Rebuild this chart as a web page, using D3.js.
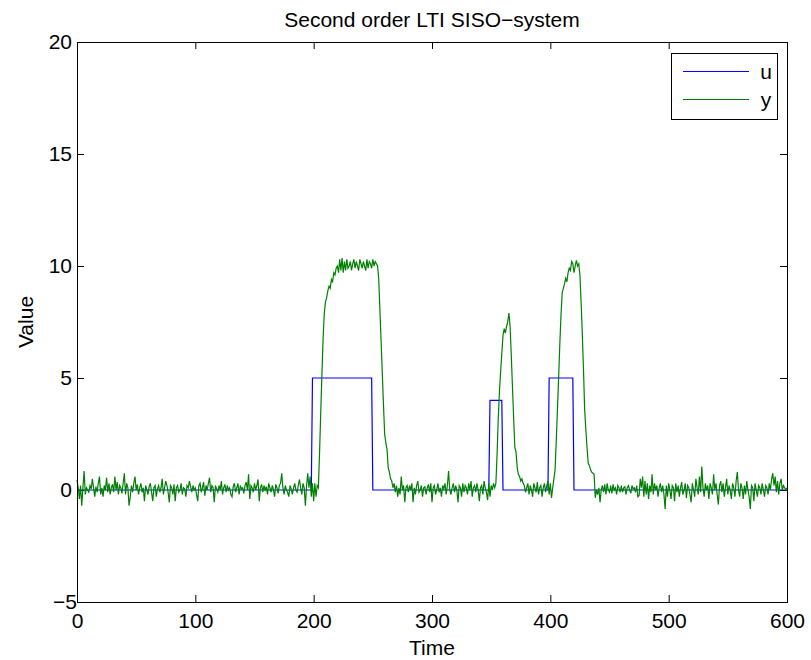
<!DOCTYPE html>
<html>
<head>
<meta charset="utf-8">
<script src="https://cdn.jsdelivr.net/npm/d3@7"></script>
<style>
  body { margin: 0; background: #fff; }
  svg { font-family: "Liberation Sans", Arial, Helvetica, sans-serif; }
  .tick text { font-size: 21px; fill: #000; }
  .tick line { stroke: #000; }
</style>
</head>
<body>
<div id="container"></div>
<script>
/* DATA */
// input u: breakpoints of the step signal
const uTime  = [0, 198, 199, 249, 250, 348, 349, 359, 360, 398, 399, 419, 420, 600];
const uValue = [0,   0,   5,   5,   0,   0,   4,   4,   0,   0,   5,   5,   0,   0];

// output y, one value per time step (t = 0..600)
const yValue = [
  0.45, 0.1, -0.4, 0.2, -0.7, 0.1, 0.85, -0.2, 0.1, 0.0, -0.1, 0.2, 0.05, 0.5, 0.1, -0.3, 0.15, -0.1, 0.3, 0.6,
  -0.2, 0.1, -0.3, 0.2, 0.0, 0.55, -0.1, 0.3, -0.2, 0.1, 0.25, -0.1, 0.6, 0.0, 0.35, -0.2, 0.2, 0.1, -0.15, 0.3,
  0.75, -0.2, 0.3, 0.1, -0.7, -0.3, 0.2, -0.1, 0.3, 0.6, 0.0, 0.25, -0.2, 0.1, 0.3, -0.1, 0.1, -0.5, 0.2, 0.0,
  -0.2, 0.15, 0.3, -0.1, -0.5, 0.1, 0.2, -0.3, 0.05, 0.2, -0.1, 0.1, 0.5, -0.2, 0.1, 0.4, 0.2, -0.1, -0.55, 0.2,
  0.1, -0.2, 0.25, -0.5, 0.1, 0.2, -0.1, 0.0, 0.3, -0.2, 0.1, 0.05, -0.3, 0.2, 0.1, 0.4, 0.15, -0.1, 0.2, 0.0,
  0.1, -0.2, -0.5, 0.2, 0.3, -0.1, 0.1, 0.35, -0.25, 0.2, 0.0, 0.3, 0.55, -0.1, 0.2, 0.1, -0.55, 0.2, 0.05, -0.1,
  0.2, 0.0, 0.4, -0.2, 0.1, 0.25, -0.1, 0.2, 0.0, 0.1, -0.2, -0.3, 0.15, 0.3, -0.1, 0.1, 0.3, -0.2, 0.2, 0.05,
  0.1, -0.15, 0.2, 0.35, 0.0, 0.7, -0.4, 0.2, 0.1, -0.1, 0.3, 0.0, 0.2, 0.47, -0.5, 0.1, 0.25, -0.1, 0.2, 0.0,
  0.15, -0.2, 0.3, 0.1, -0.1, 0.2, 0.0, -0.3, 0.25, 0.1, -0.15, 0.2, 0.3, 0.74, 0.1, -0.2, 0.2, 0.0, -0.1, -0.3,
  0.2, 0.05, -0.2, 0.1, 0.3, 0.0, -0.1, 0.2, 0.47, 0.1, -0.2, 0.3, 0.1, -0.7, 0.2, 0.74, 0.1, 0.6, -0.3, 0.3,
  -0.5, 0.3, -0.3, 0.2, 0.1, 1.7, 3.5, 5.2, 6.8, 7.9, 8.4, 8.6, 8.9, 9.1, 9.0, 9.4, 9.3, 9.7, 9.6, 9.9,
  10.0, 9.7, 10.3, 9.8, 10.35, 9.7, 10.2, 9.8, 10.3, 9.9, 10.0, 10.2, 9.8, 10.1, 10.3, 9.9, 10.2, 10.0, 9.8, 10.3,
  10.1, 9.9, 10.2, 10.0, 9.8, 10.3, 9.9, 10.2, 10.1, 9.9, 10.3, 10.0, 10.2, 10.1, 10.0, 9.4, 8.0, 6.6, 5.2, 3.8,
  2.5, 2.1, 1.8, 1.0, 0.8, 0.5, 0.4, 0.1, 0.3, -0.1, 0.2, -0.3, 0.1, -0.2, 0.6, 0.0, 0.2, -0.55, 0.1, 0.2,
  -0.1, 0.2, 0.0, 0.3, -0.55, 0.1, -0.2, 0.2, 0.4, -0.1, 0.0, 0.2, -0.3, 0.1, 0.15, -0.2, 0.1, 0.25, -0.1, 0.3,
  -0.55, 0.1, 0.2, -0.2, 0.0, 0.3, -0.1, 0.1, -0.3, 0.2, 0.05, 0.3, -0.2, 0.2, 0.85, 0.0, -0.2, 0.1, 0.3, -0.1,
  0.2, 0.0, -0.55, 0.2, 0.1, -0.3, 0.3, -0.1, 0.2, 0.1, -0.2, 0.3, 0.0, 0.4, -0.3, 0.1, 0.2, -0.1, 0.3, 0.0,
  -0.5, 0.1, 0.2, -0.2, 0.4, 0.1, -0.1, -0.45, 0.3, -0.3, 0.2, 0.0, 0.3, 0.1, 0.3, 1.6, 3.2, 4.4, 5.3, 6.1,
  6.9, 7.2, 7.0, 7.3, 7.5, 7.9, 7.3, 6.0, 4.6, 3.2, 1.9, 1.7, 1.0, 0.7, 0.6, 0.4, 0.5, 0.3, 0.2, -0.1,
  0.1, 0.3, -0.2, 0.2, 0.0, -0.3, 0.3, 0.1, -0.1, 0.35, -0.2, 0.1, 0.2, -0.3, 0.1, 0.3, -0.1, 0.2, 0.4, -0.2,
  0.3, -0.35, 0.1, 0.5, 0.9, 2.2, 3.6, 5.0, 6.5, 7.8, 8.8, 9.0, 9.2, 9.45, 9.3, 9.7, 9.9, 9.8, 10.2, 10.1,
  9.7, 10.0, 10.25, 10.0, 10.1, 9.6, 8.4, 7.0, 5.4, 3.6, 2.7, 1.9, 1.2, 1.1, 0.9, 0.8, 0.75, 0.7, -0.35, 0.0,
  -0.2, 0.1, -0.55, 0.0, 0.2, -0.1, 0.25, -0.2, 0.3, 0.0, -0.1, 0.2, -0.15, 0.25, 0.0, 0.1, -0.2, 0.2, 0.1, -0.1,
  0.2, -0.1, 0.1, 0.15, -0.2, 0.1, 0.2, 0.0, -0.15, 0.2, 0.05, 0.1, -0.1, 0.2, -0.3, -0.25, 0.5, 0.1, 0.6, -0.3,
  0.4, -0.2, 0.3, -0.4, 0.2, -0.1, 0.7, -0.2, 0.3, 0.0, 0.2, -0.3, 0.1, 0.3, -0.1, 0.2, -0.2, -0.85, 0.2, -0.3,
  0.3, 0.0, -0.4, 0.2, 0.1, -0.5, 0.3, -0.1, 0.2, -0.3, 0.1, 0.35, -0.2, 0.0, 0.3, -0.35, 0.2, 0.1, -0.2, -0.55,
  0.3, 0.0, -0.3, 0.5, 0.1, -0.2, 0.6, -0.1, 1.05, 0.1, -0.3, 0.3, 0.0, 0.2, -0.4, 0.3, 0.1, -0.2, 0.7, 0.0,
  0.3, -0.2, -0.65, 0.2, 0.4, -0.1, 0.3, -0.3, 0.1, 0.5, -0.2, 0.2, 0.0, -0.4, 0.3, 0.1, -0.3, 0.4, 0.8, 0.0,
  -0.3, 0.3, 0.1, -0.4, 0.2, -0.2, 0.4, 0.0, -0.3, -0.85, 0.2, 0.1, -0.5, 0.3, 0.0, -0.3, 0.2, 0.1, -0.2, 0.3,
  0.0, -0.3, 0.2, 0.1, -0.2, 0.3, 0.0, 0.5, 0.75, 0.2, 0.6, -0.1, 0.4, -0.2, 0.3, 0.5, 0.0, 0.2, 0.1, 0.0, 0.1
];

const xTicks = [0, 100, 200, 300, 400, 500, 600];
const yTicks = [-5, 0, 5, 10, 15, 20];
const seriesNames = ["u", "y"];
const seriesColors = ["#0000ff", "#008000"];

/* CONSTANTS */
const width = 811;
const height = 660;
const plotLeft = 77, plotRight = 787, plotTop = 42, plotBottom = 602;

/* SCALES */
const xScale = d3.scaleLinear().domain([0, 600]).range([plotLeft, plotRight]);
const yScale = d3.scaleLinear().domain([-5, 20]).range([plotBottom, plotTop]);

/* SVG */
const svg = d3.select("#container")
  .append("svg")
  .attr("width", width)
  .attr("height", height);

// axes (inward ticks on all four sides, like matlab's box)
const fmt = d => d < 0 ? "\u2212" + Math.abs(d) : String(d);

svg.append("g")
  .attr("transform", `translate(0, ${plotBottom})`)
  .call(d3.axisBottom(xScale).tickValues(xTicks).tickFormat(fmt)
    .tickSizeInner(-7).tickSizeOuter(0).tickPadding(11))
  .call(g => g.select(".domain").remove());

svg.append("g")
  .attr("transform", `translate(0, ${plotTop})`)
  .call(d3.axisTop(xScale).tickValues(xTicks).tickFormat("")
    .tickSizeInner(-7).tickSizeOuter(0))
  .call(g => g.select(".domain").remove());

svg.append("g")
  .attr("transform", `translate(${plotLeft}, 0)`)
  .call(d3.axisLeft(yScale).tickValues(yTicks).tickFormat(fmt)
    .tickSizeInner(-7).tickSizeOuter(0).tickPadding(5))
  .call(g => g.select(".domain").remove())
  .call(g => g.selectAll(".tick text").filter(d => d < 0).attr("dx", 5));

svg.append("g")
  .attr("transform", `translate(${plotRight}, 0)`)
  .call(d3.axisRight(yScale).tickValues(yTicks).tickFormat("")
    .tickSizeInner(-7).tickSizeOuter(0))
  .call(g => g.select(".domain").remove());

svg.selectAll("g").attr("font-family", null).attr("font-size", null);

// lines
const uData = uTime.map((t, i) => ({ t: t, v: uValue[i] }));
const yData = yValue.map((v, i) => ({ t: i, v: v }));

const line = d3.line()
  .x(d => xScale(d.t))
  .y(d => yScale(d.v));

svg.append("path")
  .datum(uData)
  .attr("fill", "none")
  .attr("stroke", seriesColors[0])
  .attr("stroke-width", 1.2)
  .attr("d", line);

svg.append("path")
  .datum(yData)
  .attr("fill", "none")
  .attr("stroke", seriesColors[1])
  .attr("stroke-width", 1.2)
  .attr("d", line);

// box
svg.append("rect")
  .attr("x", plotLeft + 0.5)
  .attr("y", plotTop + 0.5)
  .attr("width", plotRight - plotLeft)
  .attr("height", plotBottom - plotTop)
  .attr("fill", "none")
  .attr("stroke", "#000")
  .attr("stroke-width", 1);

// legend
const legend = svg.append("g").attr("transform", "translate(671, 53)");
legend.append("rect")
  .attr("x", 0.5).attr("y", 0.5)
  .attr("width", 106).attr("height", 66)
  .attr("fill", "#fff")
  .attr("stroke", "#000");

seriesNames.forEach((name, i) => {
  const ly = 18.5 + i * 28;
  legend.append("line")
    .attr("x1", 12).attr("x2", 78)
    .attr("y1", ly).attr("y2", ly)
    .attr("stroke", seriesColors[i])
    .attr("stroke-width", 1.2);
  legend.append("text")
    .attr("x", 95)
    .attr("y", ly + 7)
    .attr("text-anchor", "middle")
    .attr("font-size", 21)
    .text(name);
});

// title and axis labels
svg.append("text")
  .attr("x", (plotLeft + plotRight) / 2)
  .attr("y", 27)
  .attr("text-anchor", "middle")
  .attr("font-size", 21)
  .text("Second order LTI SISO\u2212system");

svg.append("text")
  .attr("x", (plotLeft + plotRight) / 2)
  .attr("y", 655)
  .attr("text-anchor", "middle")
  .attr("font-size", 21)
  .text("Time");

svg.append("text")
  .attr("transform", "rotate(-90)")
  .attr("x", -(plotTop + plotBottom) / 2)
  .attr("y", 33)
  .attr("text-anchor", "middle")
  .attr("font-size", 21)
  .text("Value");
</script>
</body>
</html>
